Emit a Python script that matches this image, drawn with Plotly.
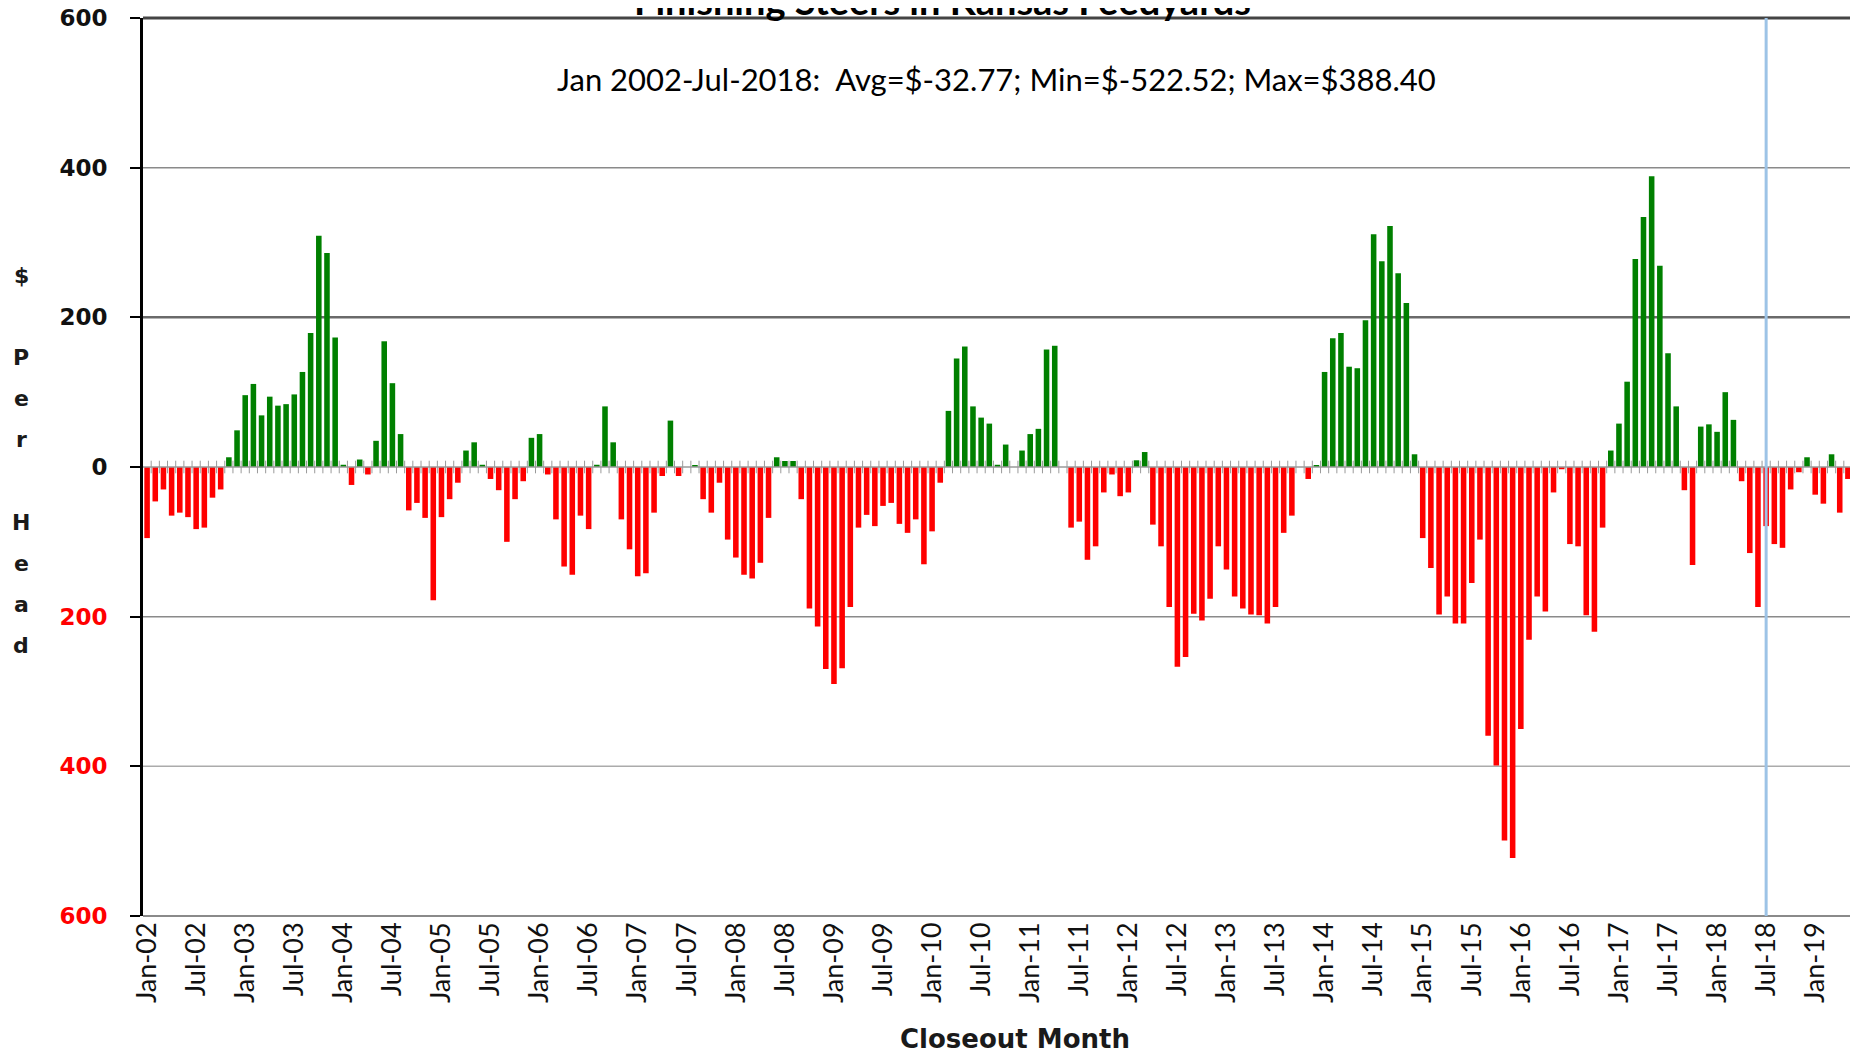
import plotly.graph_objects as go
import pandas as pd

# Monthly closeout returns, $ per head (Jan 2002 - May 2019)
v2002 = [-95, -46, -30, -65, -61, -67, -83, -81, -41, -30, 13, 49]
v2003 = [96, 111, 69, 94, 82, 84, 97, 127, 179, 309, 286, 173]
v2004 = [3, -24, 10, -10, 35, 168, 112, 44, -58, -48, -68, -178]
v2005 = [-67, -43, -21, 22, 33, 3, -16, -31, -100, -43, -19, 39]
v2006 = [44, -10, -70, -133, -144, -65, -83, 3, 81, 33, -70, -110]
v2007 = [-146, -142, -61, -12, 62, -12, 0, 2, -43, -61, -21, -97]
v2008 = [-121, -144, -149, -128, -68, 13, 8, 8, -43, -189, -213, -270]
v2009 = [-290, -269, -187, -81, -64, -79, -52, -48, -76, -88, -70, -130]
v2010 = [-86, -21, 75, 145, 161, 81, 66, 58, 3, 30, 0, 22]
v2011 = [44, 51, 157, 162, 0, -81, -73, -124, -106, -34, -10, -39]
v2012 = [-34, 9, 20, -77, -106, -187, -267, -254, -196, -205, -176, -106]
v2013 = [-137, -173, -189, -197, -198, -209, -187, -88, -65, 0, -16, 2]
v2014 = [127, 172, 179, 134, 132, 196, 311, 275, 322, 259, 219, 17]
v2015 = [-95, -135, -197, -173, -209, -209, -155, -97, -359, -399, -499, -522.52]
v2016 = [-350, -231, -173, -193, -34, -3, -103, -106, -198, -220, -81, 22]
v2017 = [58, 114, 278, 334, 388.40, 269, 152, 81, -31, -131, 54, 57]
v2018 = [47, 100, 63, -19, -115, -187, -79, -103, -108, -30, -7, 13]
v2019 = [-37, -49, 17, -61, -16]

y_tick_vals = [600, 400, 200, 0, -200, -400, -600]
y_tick_text = ["600", "400", "200", "0",
               "<span style='color:#ff0000'>200</span>",
               "<span style='color:#ff0000'>400</span>",
               "<span style='color:#ff0000'>600</span>"]
y_title_letters = ["$", "P", "e", "r", "H", "e", "a", "d"]
y_title_rows = [0, 2, 3, 4, 6, 7, 8, 9]

title_text = "Finishing Steers in Kansas Feedyards"
subtitle_text = "Jan 2002-Jul-2018:  Avg=$-32.77; Min=$-522.52; Max=$388.40"
x_title = "Closeout Month"
marker_month = "Jul-18"

values = (v2002 + v2003 + v2004 + v2005 + v2006 + v2007 + v2008 + v2009 + v2010
          + v2011 + v2012 + v2013 + v2014 + v2015 + v2016 + v2017 + v2018 + v2019)
months = pd.date_range("2002-01-01", periods=len(values), freq="MS")
labels = [d.strftime("%b-%y") for d in months]
idx = list(range(len(values)))
colors = ["#008000" if v >= 0 else "#ff0000" for v in values]
tick_idx = [i for i in idx if months[i].month in (1, 7)]
tick_txt = [labels[i] for i in tick_idx]
n = len(values)

# page body has an 8px margin; positions below are measured on the page
OFF = 8
W, H = 1858, 1052
L, R, T, B = 135, 14, 10, 144
plot_h = H - T - B
plot_w = W - L - R


def py(p):
    return (H - B - (p - OFF)) / plot_h


def px(p):
    return (p - OFF - L) / plot_w


fig = go.Figure()
fig.add_bar(x=idx, y=values, marker_color=colors, marker_line_width=0, width=0.68,
            showlegend=False)
fig.add_scatter(x=[i + 0.5 for i in idx], y=[0] * n, mode="markers",
                marker=dict(symbol="line-ns", size=9, line=dict(width=1, color="#9a9a9a")),
                showlegend=False, hoverinfo="skip")

shapes = []
grid = {400: ("#8a8a8a", 1.5), 200: ("#6a6a6a", 2.5), -200: ("#8a8a8a", 1.5), -400: ("#ababab", 1.5)}
for yv, (c, w) in grid.items():
    shapes.append(dict(type="line", xref="paper", x0=0, x1=1, yref="y", y0=yv, y1=yv,
                       line=dict(color=c, width=w), layer="below"))
shapes.append(dict(type="line", xref="paper", x0=0, x1=1, yref="y", y0=0, y1=0,
                   line=dict(color="#9a9a9a", width=1.5), layer="above"))
shapes.append(dict(type="line", xref="paper", x0=0, x1=1, yref="paper", y0=1, y1=1,
                   line=dict(color="#444444", width=3)))
shapes.append(dict(type="line", xref="paper", x0=0, x1=1, yref="paper", y0=0, y1=0,
                   line=dict(color="#8a8a8a", width=2)))
shapes.append(dict(type="line", xref="paper", x0=1, x1=1, yref="paper", y0=0, y1=1,
                   line=dict(color="#8a8a8a", width=2)))
jl = labels.index(marker_month)
shapes.append(dict(type="line", xref="x", x0=jl, x1=jl, yref="paper", y0=0, y1=1,
                   line=dict(color="#9dc3e6", width=3)))

ann = []
ann.append(dict(text=title_text, xref="paper", yref="paper", x=px(942), y=py(25),
                xanchor="center", yanchor="bottom", showarrow=False,
                font=dict(family="Lato", size=38, color="#000000", weight="bold")))
ann.append(dict(text=subtitle_text, xref="paper", yref="paper", x=px(996), y=py(79),
                xanchor="center", yanchor="middle", showarrow=False,
                font=dict(family="Lato", size=31, color="#000000")))
ann.append(dict(text=x_title, xref="paper", yref="paper", x=px(1015), y=py(1039),
                xanchor="center", yanchor="middle", showarrow=False,
                font=dict(family="DejaVu Sans", size=26, color="#1a1a1a", weight="bold")))
for ch, row in zip(y_title_letters, y_title_rows):
    ann.append(dict(text=ch, xref="paper", yref="paper", x=px(21), y=py(275 + row * 41.2),
                    xanchor="center", yanchor="middle", showarrow=False,
                    font=dict(family="DejaVu Sans", size=22, color="#1a1a1a", weight="bold")))

fig.update_layout(
    width=W, height=H,
    margin=dict(l=L, r=R, t=T, b=B, autoexpand=False),
    plot_bgcolor="white", paper_bgcolor="white",
    bargap=0.32,
    shapes=shapes, annotations=ann,
    xaxis=dict(range=[-0.5, n - 0.5], tickmode="array", tickvals=tick_idx, ticktext=tick_txt,
               tickangle=-90, showgrid=False, zeroline=False, showline=False, ticks="",
               automargin=False,
               tickfont=dict(family="Liberation Sans Narrow, Lato", size=27, color="#111111")),
    yaxis=dict(range=[-600, 600], tickmode="array", tickvals=y_tick_vals, ticktext=y_tick_text,
               showgrid=False, zeroline=False, showline=True, linecolor="#000000", linewidth=3,
               ticks="outside", ticklen=10, tickwidth=2, tickcolor="#000000",
               ticklabelstandoff=18, ticklabeloverflow="allow", automargin=False,
               tickfont=dict(family="DejaVu Sans", size=23, color="#111111", weight="bold")),
)

fig.write_html("out.html")
